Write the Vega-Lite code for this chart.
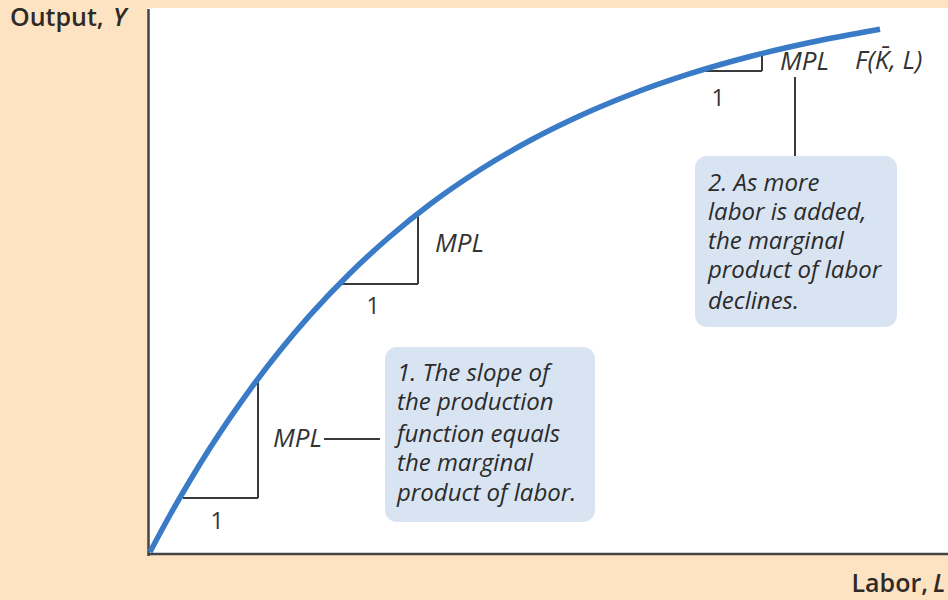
{
  "$schema": "https://vega.github.io/schema/vega-lite/v6.json",
  "width": 800,
  "height": 547,
  "autosize": "none",
  "padding": {"left": 148, "top": 8, "right": 0, "bottom": 45},
  "background": "#fde3c2",
  "config": {"view": {"fill": "#ffffff", "stroke": null}},
  "encoding": {
    "x": {"field": "x", "type": "quantitative", "scale": {"domain": [0, 800], "nice": false, "zero": false}, "axis": null},
    "y": {"field": "y", "type": "quantitative", "scale": {"domain": [0, 547], "nice": false, "zero": false}, "axis": null}
  },
  "layer": [
    {
      "data": {"values": [
        {"x": 237, "y": 208, "x2": 447, "y2": 33},
        {"x": 547, "y": 399, "x2": 749, "y2": 228}
      ]},
      "mark": {"type": "rect", "fill": "#d9e4f2", "cornerRadius": 12},
      "encoding": {"x2": {"field": "x2"}, "y2": {"field": "y2"}}
    },
    {
      "data": {"values": [
        {"x": 0.5, "y": -1, "x2": 0.5, "y2": 546},
        {"x": 0, "y": 1, "x2": 800, "y2": 1}
      ]},
      "mark": {"type": "rule", "color": "#444444", "strokeWidth": 2.5},
      "encoding": {"x2": {"field": "x2"}, "y2": {"field": "y2"}}
    },
    {
      "data": {"values": [
        {"x": 35, "y": 57, "x2": 110, "y2": 57},
        {"x": 110, "y": 57, "x2": 110, "y2": 174},
        {"x": 192, "y": 271, "x2": 270, "y2": 271},
        {"x": 270, "y": 271, "x2": 270, "y2": 341},
        {"x": 545, "y": 484, "x2": 614, "y2": 484},
        {"x": 614, "y": 484, "x2": 614, "y2": 501},
        {"x": 176, "y": 116, "x2": 232, "y2": 116},
        {"x": 647, "y": 478, "x2": 647, "y2": 399}
      ]},
      "mark": {"type": "rule", "color": "#3a3a3a", "strokeWidth": 2},
      "encoding": {"x2": {"field": "x2"}, "y2": {"field": "y2"}}
    },
    {
      "data": {"values": [
        {"x": 2, "y": 3}, {"x": 22, "y": 40}, {"x": 42, "y": 74.5}, {"x": 62, "y": 106.9},
        {"x": 82, "y": 137.1}, {"x": 102, "y": 165.4}, {"x": 132, "y": 204.5}, {"x": 162, "y": 239.9},
        {"x": 202, "y": 281.8}, {"x": 242, "y": 318.5}, {"x": 282, "y": 350.7}, {"x": 332, "y": 385.2},
        {"x": 382, "y": 414.5}, {"x": 432, "y": 439.3}, {"x": 482, "y": 460.3}, {"x": 542, "y": 481.3},
        {"x": 602, "y": 498.5}, {"x": 662, "y": 512.5}, {"x": 732, "y": 525.7}
      ]},
      "mark": {"type": "line", "color": "#3a7bc8", "strokeWidth": 5.5, "interpolate": "monotone", "strokeCap": "butt"}
    },
    {
      "data": {"values": [
        {"x": 249, "y": 181, "t": "1. The slope of"},
        {"x": 249, "y": 152, "t": "the production"},
        {"x": 249, "y": 120, "t": "function equals"},
        {"x": 249, "y": 91, "t": "the marginal"},
        {"x": 249, "y": 61, "t": "product of labor."},
        {"x": 560, "y": 371, "t": "2. As more"},
        {"x": 560, "y": 342, "t": "labor is added,"},
        {"x": 560, "y": 313, "t": "the marginal"},
        {"x": 560, "y": 284, "t": "product of labor"},
        {"x": 560, "y": 253, "t": "declines."}
      ]},
      "mark": {"type": "text", "align": "left", "baseline": "middle", "font": "Open Sans", "fontStyle": "italic", "fontSize": 24, "color": "#2b2b2b"},
      "encoding": {"text": {"field": "t"}}
    },
    {
      "data": {"values": [
        {"x": 287, "y": 311, "t": "MPL"},
        {"x": 632, "y": 493, "t": "MPL"},
        {"x": 707, "y": 494, "t": "F(K̄, L)"}
      ]},
      "mark": {"type": "text", "align": "left", "baseline": "middle", "font": "Open Sans", "fontStyle": "italic", "fontSize": 26, "color": "#333333"},
      "encoding": {"text": {"field": "t"}}
    },
    {
      "data": {"values": [{"x": 174, "y": 116, "t": "MPL"}]},
      "mark": {"type": "text", "align": "right", "baseline": "middle", "font": "Open Sans", "fontStyle": "italic", "fontSize": 26, "color": "#333333"},
      "encoding": {"text": {"field": "t"}}
    },
    {
      "data": {"values": [
        {"x": 69, "y": 33, "t": "1"},
        {"x": 225, "y": 248, "t": "1"},
        {"x": 570, "y": 456, "t": "1"}
      ]},
      "mark": {"type": "text", "align": "center", "baseline": "middle", "font": "Open Sans", "fontSize": 23, "color": "#333333"},
      "encoding": {"text": {"field": "t"}}
    },
    {
      "data": {"values": [
        {"x": -138, "y": 537, "t": "Output,"}
      ]},
      "mark": {"type": "text", "align": "left", "baseline": "middle", "font": "Open Sans", "fontSize": 25, "fontWeight": 600, "color": "#2e2a26"},
      "encoding": {"text": {"field": "t"}}
    },
    {
      "data": {"values": [
        {"x": 780, "y": -29, "t": "Labor,"}
      ]},
      "mark": {"type": "text", "align": "right", "baseline": "middle", "font": "Open Sans", "fontSize": 25, "fontWeight": 600, "color": "#2e2a26"},
      "encoding": {"text": {"field": "t"}}
    },
    {
      "data": {"values": [
        {"x": -35, "y": 537, "t": "Y"},
        {"x": 785, "y": -29, "t": "L"}
      ]},
      "mark": {"type": "text", "align": "left", "baseline": "middle", "font": "Open Sans", "fontStyle": "italic", "fontSize": 25, "fontWeight": 600, "color": "#2e2a26"},
      "encoding": {"text": {"field": "t"}}
    }
  ]
}
